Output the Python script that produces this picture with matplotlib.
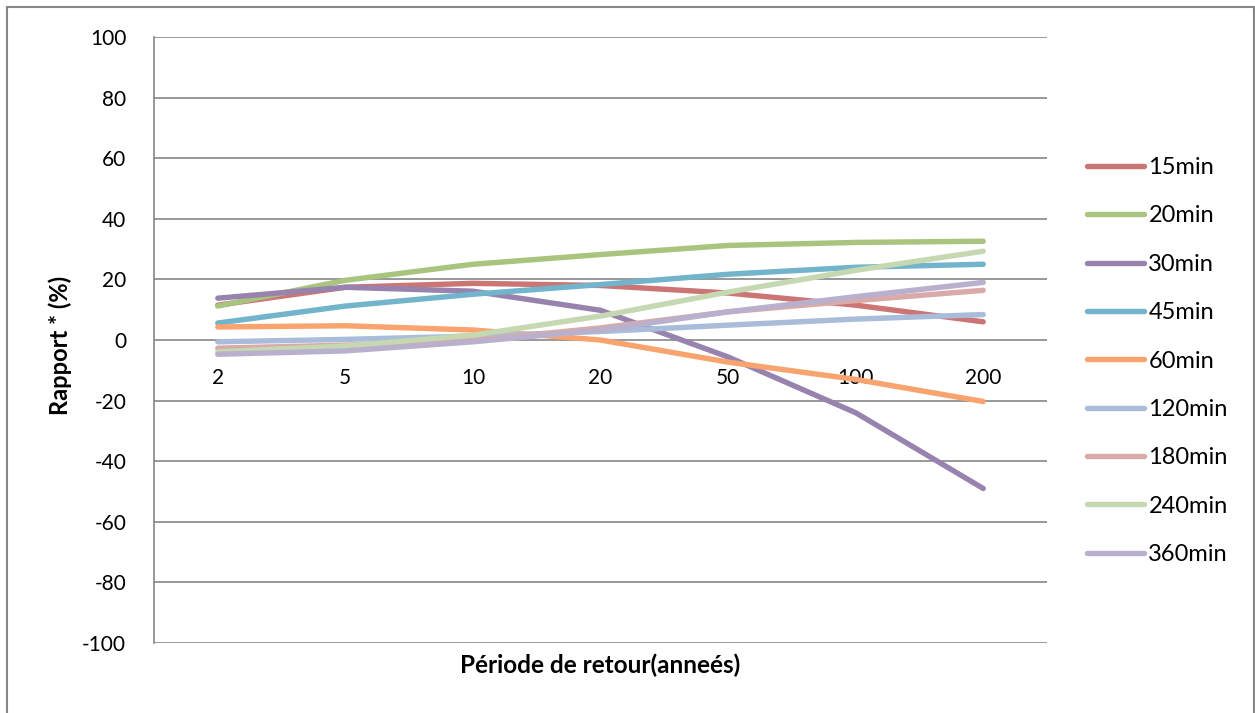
import matplotlib.pyplot as plt
from matplotlib.patches import Rectangle

plt.rcParams['font.family'] = ['Lato', 'DejaVu Sans']
plt.rcParams['axes.unicode_minus'] = False

# periodes de retour (categories)
periodes = ['2', '5', '10', '20', '50', '100', '200']

# rapport (%) par duree
r15 = [11.5, 17.4, 18.7, 18.0, 15.5, 11.5, 6.0]
r20 = [11.2, 19.7, 25.0, 28.2, 31.2, 32.2, 32.6]
r30 = [13.8, 17.4, 16.1, 9.8, -5.6, -24.0, -49.0]
r45 = [5.6, 11.2, 15.1, 18.3, 21.7, 24.0, 25.0]
r60 = [4.3, 4.7, 3.3, 0.0, -7.3, -13.0, -20.3]
r120 = [-0.6, 0.2, 1.3, 2.8, 4.9, 6.9, 8.4]
r180 = [-2.7, -1.7, -0.2, 4.0, 9.3, 13.0, 16.4]
r240 = [-3.9, -2.0, 1.6, 7.9, 15.8, 23.0, 29.3]
r360 = [-4.7, -3.6, -0.6, 3.3, 9.3, 14.3, 19.0]

series = [r15, r20, r30, r45, r60, r120, r180, r240, r360]
noms = ['15min', '20min', '30min', '45min', '60min', '120min', '180min', '240min', '360min']
couleurs = ['#CB7675', '#A9C47F', '#9783AE', '#72B4CB', '#F9A36E',
            '#A9BCDA', '#D9AAA9', '#C5D8B1', '#B9B0CE']

fig = plt.figure(figsize=(12.55, 7.13), dpi=100)
ax = fig.add_axes([154 / 1255, 70 / 713, 893 / 1255, 606 / 713])

x = list(range(len(periodes)))
for vals, nom, c in zip(series, noms, couleurs):
    ax.plot(x, vals, color=c, lw=3.9, solid_capstyle='round',
            solid_joinstyle='round', label=nom)

ax.set_xlim(-0.5, len(periodes) - 0.5)
ax.set_ylim(-100, 100)
ax.set_yticks(range(-100, 101, 20))
ax.set_xticks(x)
ax.set_xticklabels(periodes)

gris = '#868686'
ax.grid(axis='y', color=gris, lw=1.2)
ax.set_axisbelow(True)
for s in ['top', 'right']:
    ax.spines[s].set_visible(False)
ax.spines['left'].set_color(gris)
ax.spines['left'].set_linewidth(1.2)
ax.spines['bottom'].set_position(('data', 0))
ax.spines['bottom'].set_visible(False)
ax.tick_params(axis='both', length=0, labelsize=15)
ax.tick_params(axis='y', pad=20)
ax.tick_params(axis='x', pad=20)

fig.text(60 / 1255, 1 - 345 / 713, 'Rapport * (%)', fontsize=17, fontweight='bold',
         rotation=90, ha='center', va='center')
fig.text(600 / 1255, 1 - 665 / 713, 'Période de retour(anneés)', fontsize=17.5,
         fontweight='bold', ha='center', va='center')

ax.legend(loc='upper left', bbox_to_anchor=(1087 / 1255, 1 - 157 / 713),
          bbox_transform=fig.transFigure, frameon=False, fontsize=17,
          handlelength=2.4, handletextpad=0.2, labelspacing=1.16,
          borderaxespad=0, borderpad=0)

# cadre du graphique
fig.patches.append(Rectangle((7 / 1255, -0.05), 1247 / 1255, 1.05 - 7 / 713,
                             transform=fig.transFigure, fill=False,
                             edgecolor=gris, lw=1.5))

fig.savefig('out.png', dpi=100)
